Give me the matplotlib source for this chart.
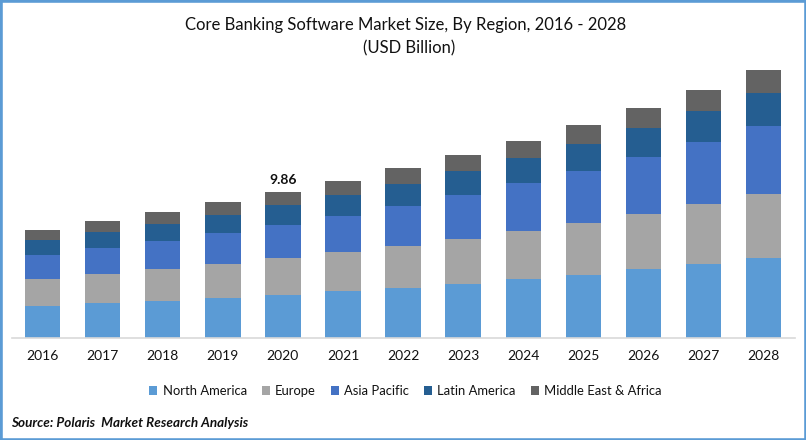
import matplotlib.pyplot as plt
import numpy as np
from matplotlib.patches import Rectangle

plt.rcParams['font.family'] = ['Lato', 'DejaVu Sans']

years = ['2016', '2017', '2018', '2019', '2020', '2021', '2022', '2023', '2024', '2025', '2026', '2027', '2028']
north_america = [2.16, 2.36, 2.50, 2.70, 2.91, 3.18, 3.38, 3.65, 3.99, 4.26, 4.66, 5.00, 5.41]
europe = [1.82, 1.96, 2.16, 2.30, 2.50, 2.64, 2.84, 3.04, 3.24, 3.51, 3.72, 4.05, 4.32]
asia_pacific = [1.62, 1.76, 1.89, 2.09, 2.23, 2.43, 2.70, 2.97, 3.24, 3.51, 3.85, 4.19, 4.59]
latin_america = [1.03, 1.08, 1.15, 1.22, 1.35, 1.42, 1.49, 1.62, 1.69, 1.82, 1.96, 2.09, 2.23]
middle_east = [0.66, 0.74, 0.81, 0.88, 0.87, 0.95, 1.08, 1.08, 1.15, 1.28, 1.35, 1.42, 1.55]

names = ['North America', 'Europe', 'Asia Pacific', 'Latin America', 'Middle East & Africa']
series = [north_america, europe, asia_pacific, latin_america, middle_east]
colors = ['#5B9BD5', '#A5A5A5', '#4472C4', '#255E91', '#636363']

W, H = 806, 440
fig = plt.figure(figsize=(W / 100, H / 100), dpi=100)
ax = fig.add_axes([12 / W, 1 - 338 / H, 783 / W, 298 / H])

x = np.arange(len(years))
bottom = np.zeros(len(years))
for name, vals, c in zip(names, series, colors):
    ax.bar(x, vals, 0.59, bottom=bottom, color=c, label=name)
    bottom += np.array(vals)

ax.set_xlim(-0.507, 12.52)
ax.set_ylim(0, 20.14)
ax.set_yticks([])
ax.set_xticks(x)
ax.set_xticklabels(years, fontsize=10, color='#111111')
ax.tick_params(axis='x', length=0, pad=8.5)
for s in ['top', 'left', 'right']:
    ax.spines[s].set_visible(False)
ax.spines['bottom'].set_color('#D9D9D9')
ax.spines['bottom'].set_linewidth(1.2)

ax.text(4, bottom[4] + 0.4, '9.86', ha='center', va='bottom', fontsize=10, fontweight='bold', color='#111111')

fig.text(406 / W, 1 - 25 / H, 'Core Banking Software Market Size, By Region, 2016 - 2028', ha='center', va='center', fontsize=12, color='#111111')
fig.text(409 / W, 1 - 48 / H, '(USD Billion)', ha='center', va='center', fontsize=12, color='#111111')

fig.legend(loc='center', bbox_to_anchor=(405.5 / W, 1 - 391 / H), ncol=5, frameon=False, fontsize=9.4,
           handlelength=0.62, handleheight=0.62, handletextpad=0.4, columnspacing=1.15, labelcolor='#111111')

fig.text(11 / W, 1 - 423 / H, 'Source: Polaris  Market Research Analysis', ha='left', va='center', fontsize=9.7,
         fontweight='bold', fontstyle='italic', color='#111111')

# blue border round the picture
fig.add_artist(Rectangle((0, 0), 1, 1, transform=fig.transFigure, fill=False, edgecolor='#5B9BD5', linewidth=3.3))

fig.savefig('out.png', dpi=100)
